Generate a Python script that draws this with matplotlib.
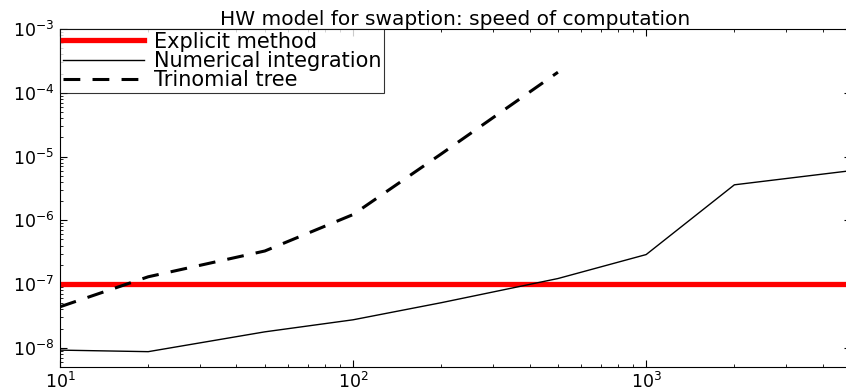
import matplotlib
matplotlib.use("Agg")
import matplotlib.pyplot as plt
import numpy as np

plt.rcParams['font.family'] = ['DejaVu Sans']
plt.rcParams['mathtext.fontset'] = 'dejavusans'

title = "HW model for swaption: speed of computation"
explicit_x = [10, 5000]
explicit_y = [1e-7, 1e-7]
numint_x = [10, 20, 50, 100, 200, 500, 1000, 2000, 5000]
numint_y = [9.2e-9, 8.7e-9, 1.78e-8, 2.75e-8, 5.1e-8, 1.22e-7, 2.9e-7, 3.6e-6, 6.0e-6]
tree_x = [10, 20, 50, 100, 200, 500]
tree_y = [4.4e-8, 1.3e-7, 3.3e-7, 1.23e-6, 1.1e-5, 2.1e-4]
labels = ["Explicit method", "Numerical integration", "Trinomial tree"]

fig = plt.figure(figsize=(8.46, 3.91), dpi=100)
W, H = 846, 391
left, right, top, bottom = 60, 851, 29, 367
ax = fig.add_axes([left / W, 1 - bottom / H, (right - left) / W, (bottom - top) / H])

ax.plot(explicit_x, explicit_y, color='#ff0000', lw=3.8, label=labels[0])
ax.plot(numint_x, numint_y, color='black', lw=1.0, label=labels[1])
ax.plot(tree_x, tree_y, color='black', lw=2.2, ls=(0, (5.5, 4)), label=labels[2])

ax.set_xscale('log')
ax.set_yscale('log')
ax.set_xlim(10, 5000)
ax.set_ylim(5e-9, 1e-3)
ax.tick_params(which='both', direction='in', top=True, right=True, labelsize=12.5)
ax.tick_params(which='major', length=5)
ax.tick_params(which='minor', length=2.5)
ax.tick_params(axis='y', pad=4)
for s in ax.spines.values():
    s.set_linewidth(0.8)

ax.set_title(title, fontsize=14.5, pad=3)
leg = ax.legend(loc='upper left', fontsize=15, frameon=True, fancybox=False,
                edgecolor='black', borderaxespad=0, handlelength=3.9,
                borderpad=0.12, labelspacing=-0.03, handletextpad=0.5)
leg.get_frame().set_linewidth(0.8)

fig.savefig("out.png", dpi=100)
